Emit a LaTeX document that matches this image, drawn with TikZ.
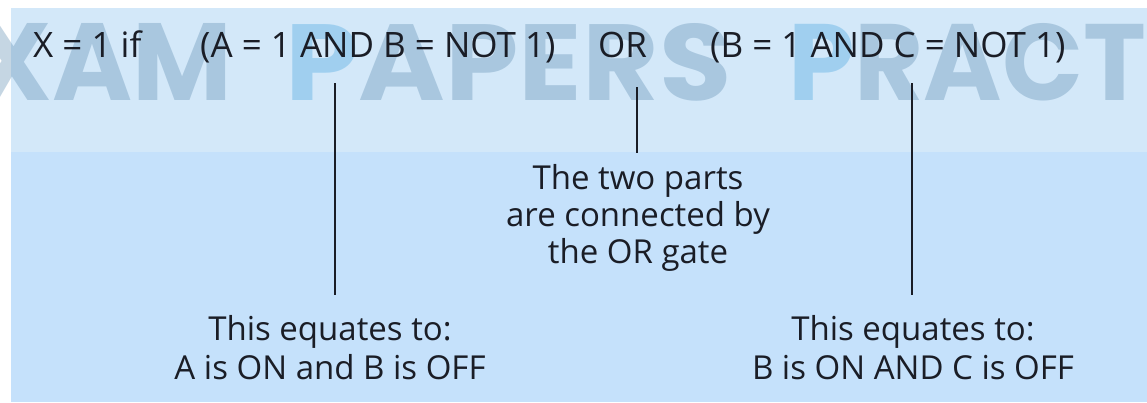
\documentclass[tikz,border=0pt]{standalone}
\usepackage{graphicx}
\usepackage{fontspec}
\setmainfont{Open Sans}
\newfontfamily\wmfont{Poppins}
\definecolor{bandtop}{HTML}{D3E8F9}
\definecolor{bandlow}{HTML}{C5E1FB}
\definecolor{ink}{HTML}{1A1D26}
\definecolor{wmgray}{HTML}{5B8AAF}
\definecolor{wmblue}{HTML}{41A3DF}
\newcommand{\logoword}[2]{\resizebox{#1}{77pt}{\wmfont\bfseries #2}}
\begin{document}
\begin{tikzpicture}[x=1pt,y=-1pt,
  formula/.style={anchor=base west, inner sep=0pt, text=ink, font=\fontsize{35}{42}\selectfont},
  note/.style={anchor=base, inner sep=0pt, text=ink, font=\fontsize{33}{38}\selectfont},
  lead/.style={draw=ink, line width=1.6pt},
  wmark/.style={anchor=base west, inner sep=0pt, text opacity=0.35, text=wmgray}]
\useasboundingbox (0,0) rectangle (1147,402);
% panel with a lighter upper band
\fill[white] (0,0) rectangle (1147,402);
\fill[bandtop] (11,8) rectangle (1147,152);
\fill[bandlow] (11,152) rectangle (1147,402);
% faint logo lettering behind the formula
\begin{scope}
  \clip (0,0) rectangle (1147,402);
  \node[wmark, anchor=base east] (wmA) at (232,100) {\logoword{316pt}{EXAM}};
  \node[wmark] (wmB) at (285,100) {\logoword{446pt}{\textcolor{wmblue}{P}APERS}};
  \node[wmark] (wmC) at (788,100) {\logoword{528pt}{\textcolor{wmblue}{P}RACTICE}};
\end{scope}
% the formula
\node[formula] (fx)  at (33,57)  {X = 1 if};
\node[formula] (fab) at (200,57) {(A = 1 AND B = NOT 1)};
\node[formula] (for) at (598,57) {OR};
\node[formula] (fbc) at (710,57) {(B = 1 AND C = NOT 1)};
% explanations
\node[note] (n1a) at (330,340) {This equates to:};
\node[note] (n1b) at (330,379) {A is ON and B is OFF};
\node[note] (n2a) at (638,189) {The two parts};
\node[note] (n2b) at (638,226) {are connected by};
\node[note] (n2c) at (638,263) {the OR gate};
\node[note] (n3a) at (913,340) {This equates to:};
\node[note] (n3b) at (913,379) {B is ON AND C is OFF};
% leader lines
\coordinate (l1a) at (335,83);  \coordinate (l1b) at (335,295);
\coordinate (l2a) at (637,87);  \coordinate (l2b) at (637,153);
\coordinate (l3a) at (912,83);  \coordinate (l3b) at (912,295);
\draw[lead] (l1a) -- (l1b);
\draw[lead] (l2a) -- (l2b);
\draw[lead] (l3a) -- (l3b);
\end{tikzpicture}
\end{document}
